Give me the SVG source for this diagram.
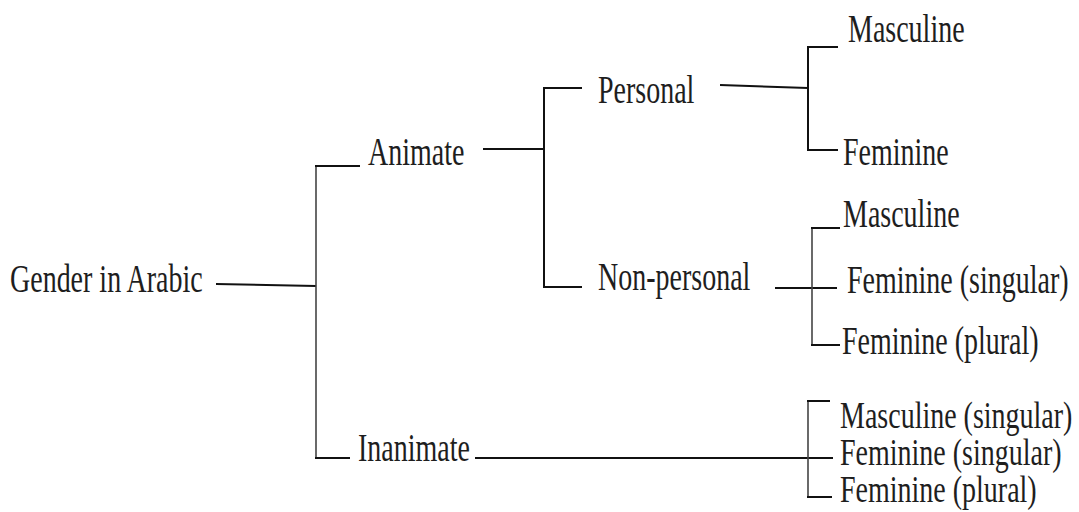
<svg xmlns="http://www.w3.org/2000/svg" width="1079" height="512" viewBox="0 0 1079 512">
<style>
.t{font-family:"Liberation Serif","Times New Roman",serif;font-size:28px;fill:#1e1e1e}
.c line{stroke:#111;stroke-width:2;fill:none}
.c .thin{stroke:#444;stroke-width:1.6}
</style>
<rect width="1079" height="512" fill="#fff"/>
<g class="c" id="connectors">
<line x1="216" y1="284" x2="316" y2="286"/>
<line class="thin" x1="316" y1="166" x2="316" y2="458"/>
<line x1="315" y1="166" x2="360" y2="166"/>
<line x1="315" y1="458" x2="350" y2="458"/>
<line x1="483" y1="149" x2="544" y2="149"/>
<line x1="544" y1="88" x2="544" y2="287"/>
<line x1="543" y1="88" x2="582" y2="88"/>
<line x1="543" y1="287" x2="582" y2="287"/>
<line x1="720" y1="85" x2="808" y2="88"/>
<line x1="808" y1="47" x2="808" y2="150"/>
<line x1="807" y1="47" x2="838" y2="47"/>
<line x1="807" y1="150" x2="838" y2="150"/>
<line x1="775" y1="288" x2="837" y2="288"/>
<line class="thin" x1="812" y1="228" x2="812" y2="345"/>
<line x1="811" y1="228" x2="840" y2="228"/>
<line x1="811" y1="345" x2="840" y2="345"/>
<line x1="475" y1="458" x2="833" y2="458"/>
<line class="thin" x1="808" y1="401" x2="808" y2="497"/>
<line x1="807" y1="401" x2="830" y2="401"/>
<line x1="807" y1="497" x2="832" y2="497"/>
</g>
<g id="root"><text class="t" transform="translate(10,292) scale(1,1.45)">Gender in Arabic</text></g>
<g id="animate"><text class="t" transform="translate(368,165) scale(1,1.45)">Animate</text></g>
<g id="inanimate"><text class="t" transform="translate(358,461) scale(1,1.45)">Inanimate</text></g>
<g id="personal"><text class="t" transform="translate(598,103) scale(1,1.45)">Personal</text></g>
<g id="nonpersonal"><text class="t" transform="translate(598,290) scale(1,1.45)">Non-personal</text></g>
<g id="p-masc"><text class="t" transform="translate(848,42) scale(1,1.45)">Masculine</text></g>
<g id="p-fem"><text class="t" transform="translate(843,165) scale(1,1.45)">Feminine</text></g>
<g id="np-masc"><text class="t" transform="translate(843,227) scale(1,1.45)">Masculine</text></g>
<g id="np-fem-sg"><text class="t" transform="translate(847,293) scale(1,1.45)">Feminine (singular)</text></g>
<g id="np-fem-pl"><text class="t" transform="translate(842,354) scale(1,1.45)">Feminine (plural)</text></g>
<g id="in-masc-sg"><text class="t" transform="translate(840,428) scale(1,1.38)">Masculine (singular)</text></g>
<g id="in-fem-sg"><text class="t" transform="translate(840,465) scale(1,1.38)">Feminine (singular)</text></g>
<g id="in-fem-pl"><text class="t" transform="translate(840,502) scale(1,1.38)">Feminine (plural)</text></g>
</svg>
